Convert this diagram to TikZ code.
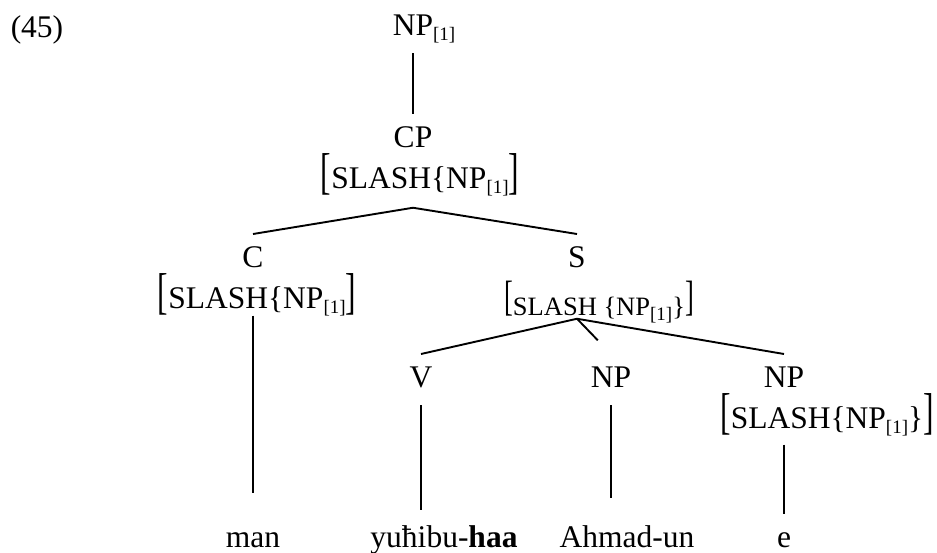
\documentclass[tikz,border=0pt]{standalone}
\usepackage{fontspec}
\setmainfont{Liberation Serif}
\usepackage{graphicx}
\newcommand{\idx}{\raisebox{-5pt}{\fontsize{19}{20}\selectfont[1]}}
\newcommand{\lbr}{\scalebox{1}[1.6]{[}}
\newcommand{\rbr}{\scalebox{1}[1.6]{]}}

\begin{document}
\begin{tikzpicture}[x=1pt,y=-1pt]
\tikzstyle{cat}=[anchor=base,inner sep=0pt,outer xsep=0pt,outer ysep=12pt,
text height=21pt,text depth=6pt,font=\fontsize{31.5}{36}\selectfont]
\tikzstyle{feat}=[anchor=base,inner sep=0pt,font=\fontsize{31.5}{36}\selectfont]
\tikzstyle{leaf}=[anchor=base,inner sep=0pt,text height=21pt,
font=\fontsize{31.5}{36}\selectfont]
\tikzstyle{branch}=[line width=1.9pt]

\useasboundingbox (0,0) rectangle (937,552);

\node[feat] (ex) at (37,37) {(45)};
\node[cat] (top) at (413,35) {NP\rlap{\idx}};
\node[cat] (cp) at (413,147) {CP};
\node[feat] (cpf) at (420,188) {\lbr SLASH\{NP\idx\rbr};
\node[cat] (c) at (253,267) {C};
\node[feat] (cf) at (257,308) {\lbr SLASH\{NP\idx\rbr};
\node[cat] (s) at (577,267) {S};
\node[feat,font=\fontsize{26.5}{30}\selectfont] (sf) at (599,315)
  {\raisebox{5pt}{\lbr}SLASH \{NP\idx\}\raisebox{5pt}{\rbr}};
\node[cat] (v) at (421,387) {V};
\node[cat] (np2) at (611,387) {NP};
\node[cat] (np3) at (784,387) {NP};
\node[feat] (np3f) at (827,428) {\lbr SLASH\{NP\idx\}\rbr};

\node[leaf] (man) at (253,547) {man};
\node[leaf] (yuh) at (444,547) {yuħibu-\textbf{haa}};
\node[leaf] (ahm) at (627,547) {Ahmad-un};
\node[leaf] (e) at (784,547) {e};

\coordinate (cpt) at ([yshift=-12pt]cpf.south -| cp);
\coordinate (spt) at ([yshift=4pt]sf.south -| s);

\draw[branch] (top) -- (cp);
\draw[branch] (c.north) -- (cpt) -- (s.north);
\draw[branch, shorten >=33pt] (cf.south -| c) -- (man.north);
\draw[branch] (v.north) -- (spt) -- (np3.north);
\draw[branch, shorten >=19pt] (spt) -- (np2.north);
\draw[branch, shorten >=16pt] (v.south) -- (v |- yuh.north);
\draw[branch, shorten >=28pt] (np2.south) -- (np2 |- ahm.north);
\draw[branch, shorten <=9pt, shorten >=12pt] (np3f.south -| np3) -- (np3 |- e.north);

\end{tikzpicture}
\end{document}
